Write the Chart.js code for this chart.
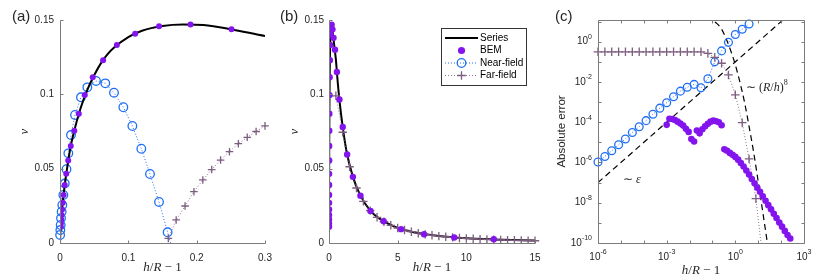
<!DOCTYPE html>
<html>
<head>
<meta charset="utf-8">
<title>v against h/R - 1</title>
<script src="https://cdn.jsdelivr.net/npm/chart.js@4.4.1/dist/chart.umd.min.js"></script>
<style>
  body { margin: 0; background: #fff; }
  canvas { position: absolute; top: 0; }
</style>
</head>
<body>
<canvas id="chartA" width="275" height="279" style="left:0"></canvas>
<canvas id="chartB" width="270" height="279" style="left:275px"></canvas>
<canvas id="chartC" width="285" height="279" style="left:545px"></canvas>
<script>
// ---- values ----

// Series (solid black), used in (a) and (b)
const seriesX = [0, 0.0005, 0.001, 0.002, 0.004, 0.007, 0.01, 0.015, 0.02, 0.03, 0.04, 0.05, 0.06, 0.07, 0.08,
  0.10, 0.12, 0.15, 0.18, 0.21, 0.25, 0.30, 0.40, 0.50, 0.60, 0.75, 1.0, 1.3, 1.7, 2.2, 3.0, 4.0, 5.0, 6.0,
  8.0, 10, 12, 15];
const seriesV = [0, 0.0072, 0.0110, 0.0173, 0.0271, 0.0393, 0.0490, 0.0635, 0.0740, 0.0905, 0.1030, 0.1128,
  0.1210, 0.1272, 0.1318, 0.1385, 0.1428, 0.1460, 0.1470, 0.1466, 0.1438, 0.1392, 0.1315, 0.1235, 0.1120,
  0.0970, 0.0780, 0.0605, 0.0458, 0.0335, 0.0218, 0.0145, 0.0102, 0.0076, 0.0047, 0.0032, 0.0024, 0.0016];

// BEM points (same abscissae in all three panels)
const bemX = [0.00100, 0.00132, 0.00174, 0.00229, 0.00302, 0.00398, 0.00525, 0.00692, 0.00912, 0.0120,
  0.0158, 0.0209, 0.0275, 0.0363, 0.0479, 0.0631, 0.0832, 0.110, 0.145, 0.191, 0.251, 0.331, 0.437, 0.575,
  0.759, 1.00, 1.32, 1.74, 2.29, 3.02, 3.98, 5.25, 6.92, 9.12, 12.0, 15.8, 20.9, 27.5, 36.3, 47.9, 63.1,
  83.2, 110, 145, 191, 251];
const bemV = [0.0110, 0.0132, 0.0158, 0.0189, 0.0226, 0.0270, 0.0323, 0.0390, 0.0465, 0.0555, 0.0652,
  0.0755, 0.0870, 0.0995, 0.1115, 0.1230, 0.1332, 0.1408, 0.1458, 0.1469, 0.1437, 0.1380, 0.1300, 0.1150,
  0.0965, 0.0780, 0.0595, 0.0445, 0.0318, 0.0216, 0.0146, 0.0093, 0.0059, 0.0037, 0.0025];
const bemErr = [7.4e-5, 1.5e-4, 1.45e-4, 1.3e-4, 1.07e-4, 8.7e-5, 6.8e-5, 4.7e-5, 3.3e-5, 1.45e-5, 1.1e-5,
  3.9e-5, 2.8e-5, 4.5e-5, 6.3e-5, 8.3e-5, 1.07e-4, 1.2e-4, 1.12e-4, 1.0e-4, 7.1e-5, 4.5e-6, 3.8e-6, 3.0e-6,
  2.4e-6, 1.9e-6, 1.38e-6, 9.5e-7, 6.3e-7, 4.0e-7, 2.5e-7, 1.5e-7, 9.3e-8, 5.6e-8, 3.5e-8, 2.1e-8, 1.26e-8,
  7.6e-9, 4.7e-9, 2.8e-9, 1.74e-9, 1.05e-9, 6.5e-10, 4.0e-10, 2.5e-10, 1.66e-10];

// Near-field and far-field approximations in (a)
const nearXa = [0.0002, 0.0005, 0.0010, 0.0015, 0.0024, 0.0034, 0.0049, 0.0070, 0.0095, 0.0122, 0.0161,
  0.0220, 0.0307, 0.0400, 0.0527, 0.0663, 0.0790, 0.0927, 0.1059, 0.1190, 0.1317, 0.1449, 0.1575, 0.1700];
const nearVa = [0.0054, 0.0087, 0.0121, 0.0166, 0.0211, 0.0256, 0.0323, 0.0400, 0.0496, 0.0603, 0.0726,
  0.0861, 0.0980, 0.1047, 0.1090, 0.1074, 0.1011, 0.0913, 0.0787, 0.0634, 0.0464, 0.0276, 0.0072, -0.0140];
const farXa = [0.1585, 0.1700, 0.1830, 0.1960, 0.2090, 0.2220, 0.2350, 0.2480, 0.2610, 0.2740, 0.2870, 0.3000];
const farVa = [0.0031, 0.0155, 0.0249, 0.0345, 0.0424, 0.0494, 0.0558, 0.0614, 0.0668, 0.0711, 0.0750, 0.0788];

// Far-field approximation in (b)
const farXb = [0.5, 1, 1.5, 2, 2.5, 3, 3.5, 4, 4.5, 5, 5.5, 6, 6.5, 7, 7.5, 8, 8.5, 9, 9.5, 10, 10.5, 11,
  11.5, 12, 12.5, 13, 13.5, 14, 14.5, 15];
const farVb = [0.0990, 0.0745, 0.0513, 0.0370, 0.0280, 0.0218, 0.0173, 0.0143, 0.0119, 0.0101, 0.0087,
  0.0076, 0.0066, 0.0058, 0.0052, 0.0046, 0.0042, 0.0038, 0.0034, 0.0031, 0.0029, 0.0026, 0.0024, 0.0022,
  0.0021, 0.0019, 0.0018, 0.0017, 0.0016, 0.0015];

// Absolute error of the approximations in (c)
const approxX = [1e-6, 2.0e-6, 3.98e-6, 7.94e-6, 1.58e-5, 3.16e-5, 6.31e-5, 1.26e-4, 2.51e-4, 5.01e-4,
  1e-3, 2.0e-3, 3.98e-3, 7.94e-3, 0.0158, 0.0316, 0.0631, 0.126, 0.251, 0.501, 1.0, 2.0, 3.98, 7.94, 15.8];
const nearErr = [1.05e-6, 2.0e-6, 3.8e-6, 7.6e-6, 1.48e-5, 3.1e-5, 6.0e-5, 1.2e-4, 2.5e-4, 5.0e-4, 9.3e-4,
  1.86e-3, 3.5e-3, 5.5e-3, 7.6e-3, 5.1e-3, 1.45e-2, 0.10, 0.35, 0.93, 2.3, 4.2, 7.6];
const farErr = [0.316, 0.316, 0.316, 0.316, 0.316, 0.316, 0.316, 0.316, 0.316, 0.316, 0.316, 0.316, 0.316,
  0.316, 0.316, 0.316, 0.263, 0.166, 0.085, 0.0224, 2.3e-3, 9.5e-5, 1.5e-6, 1.6e-8, 1.6e-11];

// dashed guide lines in (c)
const epsX = [1e-6, 120];
const epsErr = [1e-7, 12];
const decayX = [0.050, 0.100, 0.158, 0.251, 0.398, 0.631, 1.00, 1.58, 2.51, 3.98, 6.31, 10.0, 15.8, 25.1, 28.2];
const decayErr = [13.2, 11.2, 7.9, 4.2, 1.41, 0.355, 0.0708, 0.0100, 0.00100, 6.3e-5, 3.2e-6, 1.12e-7,
  3.5e-9, 1.0e-10, 4.0e-11];

const xDecadesC = [1e-6, 1e-5, 1e-4, 1e-3, 1e-2, 1e-1, 1, 10, 100, 1000];
const yDecadesC = [1e-10, 1e-9, 1e-8, 1e-7, 1e-6, 1e-5, 1e-4, 1e-3, 1e-2, 1e-1, 1, 10];
const xLabelExpC = [-6, -3, 0, 3];
const yLabelExpC = [-10, -8, -6, -4, -2, 0];

// ---- styling ----
const AXIS_COLOR = '#7c7c7c';
const TEXT_COLOR = '#262626';
const BEM_COLOR = '#8414ee';
const NEAR_COLOR = '#1f6ff5';
const FAR_COLOR = '#7d5d80';
const SANS = '"Liberation Sans", Arial, sans-serif';
const SERIF = '"Liberation Serif", "Times New Roman", serif';

function toPoints(xs, ys, maxX) {
  const out = [];
  ys.forEach((y, i) => {
    if (maxX === undefined || xs[i] <= maxX) out.push({ x: xs[i], y });
  });
  return out;
}

// draw a run of text pieces with different fonts
function drawParts(ctx, parts, x, y, align) {
  let w = 0;
  parts.forEach(p => { ctx.font = p.font; p.w = ctx.measureText(p.text).width; w += p.w; });
  let cx = align === 'center' ? x - w / 2 : align === 'right' ? x - w : x;
  ctx.textAlign = 'left';
  ctx.textBaseline = 'middle';
  parts.forEach(p => {
    ctx.font = p.font;
    ctx.fillText(p.text, cx, y + (p.dy || 0));
    cx += p.w;
  });
}

function hrTitle(size) {
  return [
    { text: 'h', font: `italic ${size}px ${SERIF}` },
    { text: '/', font: `${size}px ${SERIF}` },
    { text: 'R', font: `italic ${size}px ${SERIF}` },
    { text: ' \u2212 1', font: `${size}px ${SERIF}` },
  ];
}

function drawVTitle(ctx, x, y) {
  ctx.save();
  ctx.translate(x, y);
  ctx.rotate(-Math.PI / 2);
  ctx.fillStyle = TEXT_COLOR;
  drawParts(ctx, [{ text: 'v', font: `italic 13px ${SERIF}` }], 0, 0, 'center');
  ctx.restore();
}

function drawPanelLabel(ctx, text, x) {
  ctx.fillStyle = TEXT_COLOR;
  drawParts(ctx, [{ text, font: `15px ${SANS}` }], x, 17, 'left');
}

// axis lines and inward ticks (MATLAB style)
const frame = {
  id: 'frame',
  afterDatasetsDraw(chart, args, o) {
    const { ctx, chartArea: a } = chart;
    const sx = chart.scales.x, sy = chart.scales.y;
    const L = 3;
    const xt = o.xTicks || sx.ticks.map(t => t.value);
    const yt = o.yTicks || sy.ticks.map(t => t.value);
    ctx.save();
    ctx.strokeStyle = AXIS_COLOR;
    ctx.lineWidth = 1;
    ctx.beginPath();
    const l = Math.round(a.left) + 0.5, r = Math.round(a.right) + 0.5;
    const t = Math.round(a.top) + 0.5, b = Math.round(a.bottom) + 0.5;
    if (o.box) {
      ctx.rect(l, t, r - l, b - t);
    } else {
      ctx.moveTo(l, t);
      ctx.lineTo(l, b);
      ctx.lineTo(r, b);
    }
    xt.forEach(v => {
      const px = Math.round(sx.getPixelForValue(v)) + 0.5;
      ctx.moveTo(px, b); ctx.lineTo(px, b - L);
      if (o.box) { ctx.moveTo(px, t); ctx.lineTo(px, t + L); }
    });
    yt.forEach(v => {
      const py = Math.round(sy.getPixelForValue(v)) + 0.5;
      ctx.moveTo(l, py); ctx.lineTo(l + L, py);
      if (o.box) { ctx.moveTo(r, py); ctx.lineTo(r - L, py); }
    });
    ctx.stroke();
    ctx.restore();
  }
};

// fixed scale size, and no extra room asked for overflowing tick labels
function fixSize(isX, size) {
  return s => {
    if (isX) s.height = size; else s.width = size;
    s.paddingLeft = 0; s.paddingRight = 0; s.paddingTop = 0; s.paddingBottom = 0;
  };
}

function linearAxis(min, max, step, size, isX, pad) {
  return {
    type: 'linear',
    min, max,
    grid: { display: false, drawTicks: false },
    border: { display: false },
    ticks: {
      stepSize: step,
      autoSkip: false,
      maxRotation: 0,
      padding: pad,
      color: TEXT_COLOR,
      font: { family: SANS, size: 10 },
      callback: v => String(+v.toFixed(4)),
    },
    afterFit: fixSize(isX, size),
  };
}

function seriesSet(data) {
  return {
    label: 'Series', data, showLine: true, borderColor: '#000', borderWidth: 2,
    pointRadius: 0, cubicInterpolationMode: 'monotone', order: 2,
  };
}
function bemSet(data, r) {
  return {
    label: 'BEM', data, showLine: false, pointRadius: r, pointBorderWidth: 0,
    pointBackgroundColor: BEM_COLOR, pointBorderColor: BEM_COLOR, order: 0,
  };
}
function nearSet(data, r) {
  return {
    label: 'Near-field', data, showLine: true, borderColor: NEAR_COLOR, borderWidth: 1, borderDash: [1, 2],
    pointStyle: 'circle', pointRadius: r, pointBorderWidth: 1.3, pointBorderColor: NEAR_COLOR,
    pointBackgroundColor: 'rgba(0,0,0,0)', order: 3, clip: { left: 8, right: 8, top: 8, bottom: 0 },
  };
}
function farSet(data, r) {
  return {
    label: 'Far-field', data, showLine: true, borderColor: 'rgba(125,93,128,0.85)', borderWidth: 1,
    borderDash: [1, 2], pointStyle: 'cross', pointRadius: r, pointBorderWidth: 1.3,
    pointBorderColor: FAR_COLOR, order: 1, clip: { left: 8, right: 8, top: 8, bottom: 0 },
  };
}

const common = {
  responsive: false,
  animation: false,
  events: [],
  plugins: { legend: { display: false }, tooltip: { enabled: false } },
};

// ---- (a) ----
new Chart(document.getElementById('chartA'), {
  type: 'scatter',
  data: {
    datasets: [
      bemSet(toPoints(bemX, bemV, 0.3), 3),
      farSet(toPoints(farXa, farVa), 3.8),
      seriesSet(toPoints(seriesX, seriesV)),
      nearSet(toPoints(nearXa, nearVa), 4.3),
    ],
  },
  options: {
    ...common,
    layout: { padding: { left: 0, right: 10, top: 20, bottom: 0 } },
    scales: {
      x: linearAxis(0, 0.3, 0.1, 36, true, 9),
      y: linearAxis(0, 0.15, 0.05, 60, false, 6),
    },
    plugins: { ...common.plugins, frame: {} },
  },
  plugins: [frame, {
    id: 'textA',
    afterDraw(chart) {
      const { ctx, chartArea: a } = chart;
      ctx.save();
      drawPanelLabel(ctx, '(a)', 12);
      drawVTitle(ctx, 25, (a.top + a.bottom) / 2);
      ctx.fillStyle = TEXT_COLOR;
      drawParts(ctx, hrTitle(13), (a.left + a.right) / 2, 268, 'center');
      ctx.restore();
    }
  }],
});

// ---- (b) ----
const legendRows = [
  { label: 'Series', y: 38 },
  { label: 'BEM', y: 50.5 },
  { label: 'Near-field', y: 63 },
  { label: 'Far-field', y: 75.5 },
];

new Chart(document.getElementById('chartB'), {
  type: 'scatter',
  data: {
    datasets: [
      bemSet(toPoints(bemX.slice(0, bemV.length), bemV, 15), 3.2),
      farSet(toPoints(farXb, farVb), 4.2),
      seriesSet(toPoints(seriesX, seriesV)),
    ],
  },
  options: {
    ...common,
    layout: { padding: { left: 0, right: 10, top: 20, bottom: 0 } },
    scales: {
      x: linearAxis(0, 15, 5, 36, true, 9),
      y: linearAxis(0, 0.15, 0.05, 54, false, 5),
    },
    plugins: { ...common.plugins, frame: {} },
  },
  plugins: [frame, {
    id: 'textB',
    afterDraw(chart) {
      const { ctx, chartArea: a } = chart;
      ctx.save();
      drawPanelLabel(ctx, '(b)', 5);
      drawVTitle(ctx, 20, (a.top + a.bottom) / 2);
      ctx.fillStyle = TEXT_COLOR;
      drawParts(ctx, hrTitle(13), (a.left + a.right) / 2, 268, 'center');

      // legend box
      const bx = 166.5, by = 28.5, bw = 85, bh = 57;
      ctx.fillStyle = '#fff';
      ctx.fillRect(bx, by, bw, bh);
      ctx.strokeStyle = '#333';
      ctx.lineWidth = 1;
      ctx.strokeRect(bx, by, bw, bh);
      const x0 = 170, x1 = 203, xm = 186.5, tx = 205;
      legendRows.forEach(row => {
        const y = row.y;
        ctx.save();
        if (row.label === 'Series') {
          ctx.strokeStyle = '#000'; ctx.lineWidth = 2;
          ctx.beginPath(); ctx.moveTo(x0, y); ctx.lineTo(x1, y); ctx.stroke();
        } else if (row.label === 'BEM') {
          ctx.fillStyle = BEM_COLOR;
          ctx.beginPath(); ctx.arc(xm, y, 3.6, 0, Math.PI * 2); ctx.fill();
        } else {
          const c = row.label === 'Near-field' ? NEAR_COLOR : 'rgba(125,93,128,0.85)';
          ctx.strokeStyle = c; ctx.lineWidth = 1; ctx.setLineDash([1, 2]);
          ctx.beginPath(); ctx.moveTo(x0, y); ctx.lineTo(x1, y); ctx.stroke();
          ctx.setLineDash([]); ctx.lineWidth = 1.3;
          ctx.strokeStyle = row.label === 'Near-field' ? NEAR_COLOR : FAR_COLOR;
          ctx.beginPath();
          if (row.label === 'Near-field') {
            ctx.arc(xm, y, 4.3, 0, Math.PI * 2);
          } else {
            ctx.moveTo(xm - 4.3, y); ctx.lineTo(xm + 4.3, y);
            ctx.moveTo(xm, y - 4.3); ctx.lineTo(xm, y + 4.3);
          }
          ctx.stroke();
        }
        ctx.restore();
        ctx.fillStyle = '#000';
        drawParts(ctx, [{ text: row.label, font: `10px ${SANS}` }], tx, y, 'left');
      });
      ctx.restore();
    }
  }],
});

// ---- (c) ----
function logAxis(min, max, size, isX) {
  return {
    type: 'logarithmic',
    min, max,
    grid: { display: false, drawTicks: false },
    border: { display: false },
    ticks: { display: false },
    afterFit: fixSize(isX, size),
  };
}

function drawPow(ctx, exp, x, y, align) {
  drawParts(ctx, [
    { text: '10', font: `10px ${SANS}` },
    { text: String(exp), font: `7px ${SANS}`, dy: -4.5 },
  ], x, y, align);
}

new Chart(document.getElementById('chartC'), {
  type: 'scatter',
  data: {
    datasets: [
      bemSet(toPoints(bemX, bemErr), 3.3),
      farSet(toPoints(approxX, farErr), 4.3),
      nearSet(toPoints(approxX, nearErr), 3.9),
      {
        label: 'eps', data: toPoints(epsX, epsErr), showLine: true, borderColor: '#000', borderWidth: 1.2,
        borderDash: [6, 4], pointRadius: 0, order: 4, clip: 0,
      },
      {
        label: 'decay', data: toPoints(decayX, decayErr), showLine: true, borderColor: '#000', borderWidth: 1.2,
        borderDash: [6, 4], pointRadius: 0, cubicInterpolationMode: 'monotone', order: 4, clip: 0,
      },
    ],
  },
  options: {
    ...common,
    layout: { padding: { left: 0, right: 26, top: 20, bottom: 0 } },
    scales: {
      x: logAxis(1e-6, 1e3, 36, true),
      y: logAxis(1e-10, 12, 53, false),
    },
    plugins: { ...common.plugins, frame: { box: true, xTicks: xDecadesC, yTicks: yDecadesC } },
  },
  plugins: [frame, {
    id: 'textC',
    afterDraw(chart) {
      const { ctx, chartArea: a } = chart;
      const sx = chart.scales.x, sy = chart.scales.y;
      ctx.save();
      ctx.fillStyle = TEXT_COLOR;
      xLabelExpC.forEach(e => drawPow(ctx, e, sx.getPixelForValue(Math.pow(10, e)), 257, 'center'));
      yLabelExpC.forEach(e => drawPow(ctx, e, a.left - 6, sy.getPixelForValue(Math.pow(10, e)), 'right'));
      drawPanelLabel(ctx, '(c)', 10);
      drawParts(ctx, hrTitle(13), (a.left + a.right) / 2, 271, 'center');

      ctx.save();
      ctx.translate(17, (a.top + a.bottom) / 2);
      ctx.rotate(-Math.PI / 2);
      drawParts(ctx, [{ text: 'Absolute error', font: `11.5px ${SANS}` }], 0, 0, 'center');
      ctx.restore();

      drawParts(ctx, [
        { text: '\u223C ', font: `12px ${SERIF}` },
        { text: '\u03B5', font: `italic 12px ${SERIF}` },
      ], 78, 180, 'left');
      drawParts(ctx, [
        { text: '\u223C (', font: `12px ${SERIF}` },
        { text: 'R', font: `italic 12px ${SERIF}` },
        { text: '/', font: `12px ${SERIF}` },
        { text: 'h', font: `italic 12px ${SERIF}` },
        { text: ')', font: `12px ${SERIF}` },
        { text: '8', font: `8px ${SERIF}`, dy: -5 },
      ], 201, 88, 'left');
      ctx.restore();
    }
  }],
});
</script>
</body>
</html>
